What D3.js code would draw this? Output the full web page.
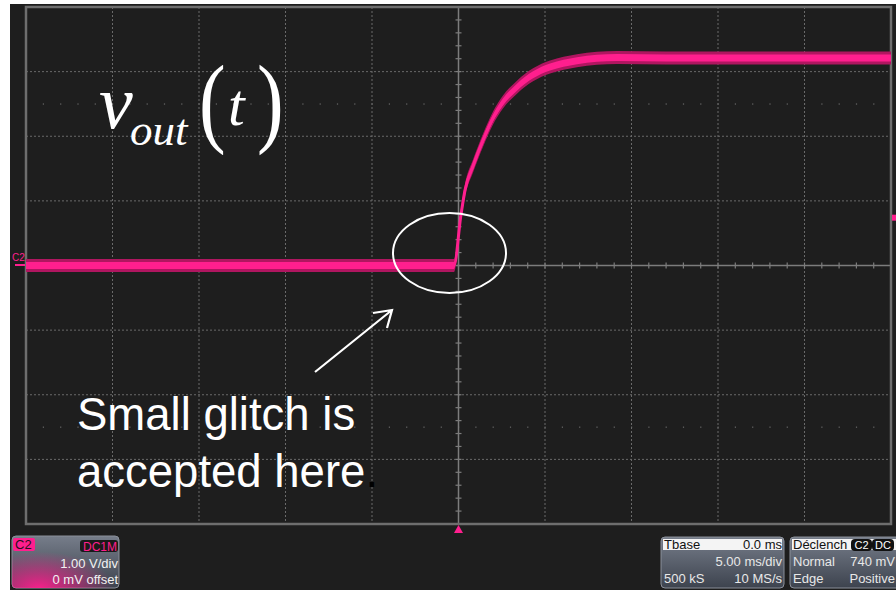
<!doctype html>
<html>
<head>
<meta charset="utf-8">
<script src="https://cdnjs.cloudflare.com/ajax/libs/d3/7.8.5/d3.min.js"></script>
<style>
  html, body { margin: 0; padding: 0; background: #fff; }
  svg { display: block; }
</style>
</head>
<body>
<svg width="896" height="590"></svg>
<script>
// trace: time in ms, volts
var traceTimeMs = [-25, -0.26, 0.14, 0.38, 0.84, 1.42, 1.99, 2.57, 3.38, 4.31, 5.29, 6.85, 9.16, 12, 25];
var traceVolts  = [0, 0, 0.78, 1.17, 1.54, 1.94, 2.28, 2.53, 2.76, 2.95, 3.07, 3.17, 3.22, 3.21, 3.21];

var xTicks = [-25, -20, -15, -10, -5, 0, 5, 10, 15, 20, 25];
var yTicks = [-4, -3, -2, -1, 0, 1, 2, 3, 4];
var triggerLevel = 0.74;

var chanLines = ["1.00 V/div", "0 mV offset"];
var tbaseRows = [["Tbase", "0.0 ms"], ["", "5.00 ms/div"], ["500 kS", "10 MS/s"]];
var trigRows = [["Déclench", ""], ["Normal", "740 mV"], ["Edge", "Positive"]];

var svg = d3.select("svg");
var pink = "#ff1f8e";

svg.append("rect").attr("width", 896).attr("height", 590).attr("fill", "#1e1e1e");
svg.append("rect").attr("width", 896).attr("height", 4).attr("fill", "#fff");
svg.append("rect").attr("width", 10).attr("height", 590).attr("fill", "#fff");

var x = d3.scaleLinear().domain([-25, 25]).range([26, 891]),
    y = d3.scaleLinear().domain([-4, 4]).range([524, 7]);

var g = svg.append("g");

// dotted grid
g.selectAll(".vgrid").data(xTicks.filter(function (d) { return d != 0 && Math.abs(d) != 25; }))
  .enter().append("line")
  .attr("x1", function (d) { return x(d); }).attr("x2", function (d) { return x(d); })
  .attr("y1", y(4)).attr("y2", y(-4))
  .attr("stroke", "#6a6a6a").attr("stroke-dasharray", "2,2");
g.selectAll(".hgrid").data(yTicks.filter(function (d) { return d != 0 && Math.abs(d) != 4; }))
  .enter().append("line")
  .attr("y1", function (d) { return y(d); }).attr("y2", function (d) { return y(d); })
  .attr("x1", x(-25)).attr("x2", x(25))
  .attr("stroke", "#6a6a6a").attr("stroke-dasharray", "2,2");

// faint dot rows at +-2.5 div
var minorX = d3.range(-25, 25.01, 1);
[2.5, -2.5].forEach(function (v) {
  g.selectAll(null).data(minorX).enter().append("rect")
    .attr("x", function (d) { return x(d) - 0.5; }).attr("y", y(v) - 0.5)
    .attr("width", 1.2).attr("height", 1.2).attr("fill", "#6a6a6a");
});

// center axes with minor ticks
g.append("line").attr("x1", x(-25)).attr("x2", x(25)).attr("y1", y(0)).attr("y2", y(0))
  .attr("stroke", "#7c7c7c").attr("stroke-width", 1.5);
g.append("line").attr("x1", x(0)).attr("x2", x(0)).attr("y1", y(4)).attr("y2", y(-4))
  .attr("stroke", "#7c7c7c").attr("stroke-width", 1.5);
g.selectAll(".xt").data(minorX).enter().append("line")
  .attr("x1", function (d) { return x(d); }).attr("x2", function (d) { return x(d); })
  .attr("y1", y(0) - 3).attr("y2", y(0) + 3)
  .attr("stroke", "#7c7c7c").attr("stroke-width", 1.2);
g.selectAll(".yt").data(d3.range(-4, 4.01, 0.2)).enter().append("line")
  .attr("y1", function (d) { return y(d); }).attr("y2", function (d) { return y(d); })
  .attr("x1", x(0) - 3).attr("x2", x(0) + 3)
  .attr("stroke", "#7c7c7c").attr("stroke-width", 1.2);

// frame
g.append("rect").attr("x", x(-25)).attr("y", y(4))
  .attr("width", x(25) - x(-25)).attr("height", y(-4) - y(4))
  .attr("fill", "none").attr("stroke", "#6e6e6e").attr("stroke-width", 2.5);

// trace
var pts = traceTimeMs.map(function (t, i) { return [t, traceVolts[i]]; });
function band(h) {
  return d3.area().curve(d3.curveMonotoneX)
    .x(function (d) { return x(d[0]); })
    .y0(function (d) { return y(d[1]) - h; })
    .y1(function (d) { return y(d[1]) + h; });
}
g.append("path").datum(pts).attr("d", band(6.5)).attr("fill", "#b01660");
g.append("path").datum(pts).attr("d", band(3.5)).attr("fill", pink);
g.append("path").datum(pts)
  .attr("d", d3.line().curve(d3.curveMonotoneX).x(function (d) { return x(d[0]); }).y(function (d) { return y(d[1]); }))
  .attr("fill", "none").attr("stroke", pink).attr("stroke-width", 3);

// channel / trigger markers
svg.append("text").attr("x", 12).attr("y", 261).attr("fill", pink)
  .style("font", "10px 'Liberation Sans', Arial, sans-serif").text("C2");
svg.append("rect").attr("x", 15).attr("y", y(0) - 1.5).attr("width", 10).attr("height", 2).attr("fill", pink);
svg.append("path")
  .attr("d", "M" + (x(0) - 4.5) + "," + (y(-4) + 9) + "L" + x(0) + "," + (y(-4) + 1) + "L" + (x(0) + 4.5) + "," + (y(-4) + 9) + "Z")
  .attr("fill", pink);
svg.append("path")
  .attr("d", "M892," + (y(triggerLevel) - 3) + "L896," + (y(triggerLevel) - 3) + "L896," + (y(triggerLevel) + 3) + "L892," + (y(triggerLevel) + 3) + "Z")
  .attr("fill", pink);

// annotations
var serif = "'Liberation Serif', 'Times New Roman', serif";
var ann = svg.append("g").attr("fill", "#fff");
ann.append("text").attr("x", 99).attr("y", 128).style("font-family", serif)
  .style("font-style", "italic").style("font-size", "76px").text("v");
ann.append("text").attr("x", 130).attr("y", 145).style("font-family", serif)
  .style("font-style", "italic").style("font-size", "45px").text("out");
ann.append("text").attr("transform", "translate(199,134) scale(0.8,1)").style("font-family", serif)
  .style("font-size", "100px").text("(");
ann.append("text").attr("x", 228).attr("y", 125).style("font-family", serif)
  .style("font-style", "italic").style("font-size", "60px").text("t");
ann.append("text").attr("transform", "translate(257,134) scale(0.8,1)").style("font-family", serif)
  .style("font-size", "100px").text(")");

var sans = "'Liberation Sans', Arial, sans-serif";
ann.append("text").attr("x", 77).attr("y", 430).style("font-family", sans).style("font-size", "45.5px")
  .text("Small glitch is");
var l2 = ann.append("text").attr("x", 77).attr("y", 487).style("font-family", sans).style("font-size", "45.5px");
l2.append("tspan").text("accepted here");
l2.append("tspan").attr("fill", "#000").text(".");

ann.append("ellipse").attr("cx", 449.5).attr("cy", 253).attr("rx", 56.5).attr("ry", 40)
  .attr("fill", "none").attr("stroke", "#fff").attr("stroke-width", 2);
ann.append("path").attr("d", "M315,372L392,310M373,313L392,310L387,328")
  .attr("fill", "none").attr("stroke", "#fff").attr("stroke-width", 2.2);

// info panels
var defs = svg.append("defs");
var pg = defs.append("linearGradient").attr("id", "panelGrad").attr("x1", 0).attr("y1", 0).attr("x2", 0).attr("y2", 1);
pg.append("stop").attr("offset", 0).attr("stop-color", "#767d8a");
pg.append("stop").attr("offset", 1).attr("stop-color", "#3d434e");
var rg = defs.append("radialGradient").attr("id", "pinkGlow").attr("cx", 0.25).attr("cy", 1).attr("r", 0.7);
rg.append("stop").attr("offset", 0).attr("stop-color", pink).attr("stop-opacity", 0.95);
rg.append("stop").attr("offset", 1).attr("stop-color", pink).attr("stop-opacity", 0);

var small = "13px " + sans;

var cp = svg.append("g");
cp.append("rect").attr("x", 12).attr("y", 536).attr("width", 107).attr("height", 52).attr("rx", 4)
  .attr("fill", "url(#panelGrad)").attr("stroke", "#8a8f99");
cp.append("rect").attr("x", 12).attr("y", 536).attr("width", 107).attr("height", 52).attr("rx", 4)
  .attr("fill", "url(#pinkGlow)");
cp.append("rect").attr("x", 13).attr("y", 538).attr("width", 22).attr("height", 13).attr("rx", 2).attr("fill", pink);
cp.append("text").attr("x", 15).attr("y", 549).attr("fill", "#2a1020").style("font", small).text("C2");
cp.append("rect").attr("x", 80).attr("y", 540).attr("width", 38).attr("height", 12).attr("rx", 3).attr("fill", "#1a1a1a");
cp.append("text").attr("x", 117).attr("y", 550.5).attr("text-anchor", "end").attr("fill", pink)
  .style("font", "12px " + sans).text("DC1M");
cp.selectAll(".cl").data(chanLines).enter().append("text")
  .attr("x", 118).attr("y", function (d, i) { return 568 + i * 16; })
  .attr("text-anchor", "end").attr("fill", "#f2f2f2").style("font", small).text(function (d) { return d; });

function infoPanel(x0, w, rows, textRight) {
  var p = svg.append("g");
  p.append("rect").attr("x", x0).attr("y", 537).attr("width", w).attr("height", 51).attr("rx", 4)
    .attr("fill", "url(#panelGrad)").attr("stroke", "#8a8f99");
  p.append("rect").attr("x", x0 + 2).attr("y", 539).attr("width", w - 4).attr("height", 11).attr("fill", "#f4f4f4");
  rows.forEach(function (r, i) {
    var yy = [548.5, 566, 583][i];
    var col = i == 0 ? "#111" : "#e8e8e8";
    p.append("text").attr("x", x0 + 3).attr("y", yy).attr("fill", col).style("font", small).text(r[0]);
    p.append("text").attr("x", textRight).attr("y", yy).attr("text-anchor", "end").attr("fill", col)
      .style("font", small).text(r[1]);
  });
  return p;
}
infoPanel(661, 123, tbaseRows, 782);
var tp = infoPanel(790, 110, trigRows, 895);
tp.append("rect").attr("x", 851).attr("y", 539).attr("width", 21).attr("height", 12).attr("rx", 4).attr("fill", "#111");
tp.append("text").attr("x", 861.5).attr("y", 549).attr("text-anchor", "middle").attr("fill", "#fff").style("font", "11px " + sans).text("C2");
tp.append("rect").attr("x", 872).attr("y", 539).attr("width", 22).attr("height", 12).attr("rx", 4).attr("fill", "#111");
tp.append("text").attr("x", 883).attr("y", 549).attr("text-anchor", "middle").attr("fill", "#fff").style("font", "11px " + sans).text("DC");
</script>
</body>
</html>
